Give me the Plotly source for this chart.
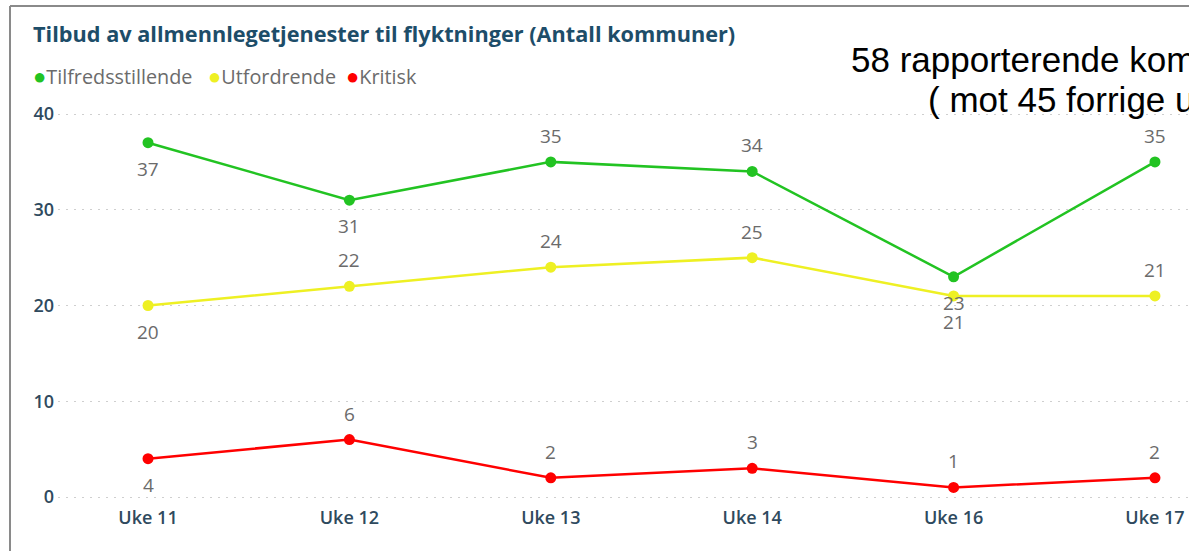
import plotly.graph_objects as go

weeks = ["Uke 11", "Uke 12", "Uke 13", "Uke 14", "Uke 16", "Uke 17"]
tilfreds = [37, 31, 35, 34, 23, 35]
utford = [20, 22, 24, 25, 21, 21]
kritisk = [4, 6, 2, 3, 1, 2]

# +1 = label above the point, -1 = label below
side_tilfreds = [-1, -1, 1, 1, -1, 1]
side_utford = [-1, 1, 1, 1, -1, 1]
side_kritisk = [-1, 1, 1, 1, 1, 1]

series = [
    ("Tilfredsstillende", tilfreds, side_tilfreds, "#22c322"),
    ("Utfordrende", utford, side_utford, "#eef023"),
    ("Kritisk", kritisk, side_kritisk, "#ff0000"),
]

W, H = 1189, 551
ML, MR, MT, MB = 58, 0, 100, 48
PX_PER_UNIT = 9.575
Y_TOP = (497 - MT) / PX_PER_UNIT
Y_BOT = -((H - MB) - 497) / PX_PER_UNIT

FONT = "Open Sans"
LABEL_COL = "#6b6b6b"
AXIS_COL = "#2f4a5e"

fig = go.Figure()
annotations = []
for name, vals, sides, col in series:
    fig.add_trace(go.Scatter(
        x=weeks, y=vals, name=name, mode="lines+markers",
        line=dict(color=col, width=2.5), marker=dict(color=col, size=11),
        showlegend=False, cliponaxis=False,
    ))
    for wk, v, s in zip(weeks, vals, sides):
        annotations.append(dict(
            x=wk, y=v, xref="x", yref="y", text=str(v), showarrow=False,
            yshift=26 * s, xanchor="center", yanchor="middle",
            font=dict(family=FONT, size=19, color=LABEL_COL),
        ))


def px_to_paper_x(px):
    return (px - ML) / (W - ML - MR)


def px_to_paper_y(py):
    return (H - MB - py) / (H - MT - MB)


legend_x = [31, 206, 344]
for (name, _, _, col), lx in zip(series, legend_x):
    annotations.append(dict(
        text=f'<span style="color:{col};font-size:22px">●</span>{name}',
        xref="paper", yref="paper", x=px_to_paper_x(lx), y=px_to_paper_y(75),
        xanchor="left", yanchor="middle", showarrow=False,
        font=dict(family=FONT, size=19.8, color=LABEL_COL),
    ))

annotations += [
    dict(text="Tilbud av allmennlegetjenester til flyktninger (Antall kommuner)",
         xref="paper", yref="paper", x=px_to_paper_x(31), y=px_to_paper_y(33),
         xanchor="left", yanchor="middle", showarrow=False,
         font=dict(family=FONT, size=21.7, color="#1d4d69", weight="bold")),
    dict(text="58 rapporterende kommuner",
         xref="paper", yref="paper", x=px_to_paper_x(849), y=px_to_paper_y(60),
         xanchor="left", yanchor="middle", showarrow=False,
         font=dict(family="Liberation Sans", size=35, color="#000000")),
    dict(text="( mot 45 forrige uke)",
         xref="paper", yref="paper", x=px_to_paper_x(926), y=px_to_paper_y(99),
         xanchor="left", yanchor="middle", showarrow=False,
         font=dict(family="Liberation Sans", size=35, color="#000000")),
]

fig.update_layout(
    width=W, height=H,
    margin=dict(l=ML, r=MR, t=MT, b=MB),
    paper_bgcolor="white", plot_bgcolor="white",
    showlegend=False,
    xaxis=dict(
        type="category", range=[-0.447, 5.169], showgrid=False, zeroline=False,
        showline=False, ticks="", ticklabelstandoff=2,
        tickfont=dict(family=FONT, size=18, color=AXIS_COL, weight=600),
    ),
    yaxis=dict(
        range=[Y_BOT, Y_TOP], tickvals=[0, 10, 20, 30, 40], showgrid=True,
        gridcolor="#cfcfcf", griddash="2px,6px", gridwidth=1, zeroline=False,
        showline=False, ticks="", ticklabelstandoff=3,
        tickfont=dict(family=FONT, size=18, color=AXIS_COL, weight=600),
    ),
    shapes=[
        dict(type="line", xref="paper", yref="paper",
             x0=px_to_paper_x(10), x1=px_to_paper_x(1300),
             y0=px_to_paper_y(6), y1=px_to_paper_y(6),
             line=dict(color="#8a8a8a", width=2)),
        dict(type="line", xref="paper", yref="paper",
             x0=px_to_paper_x(10), x1=px_to_paper_x(10),
             y0=px_to_paper_y(6), y1=px_to_paper_y(600),
             line=dict(color="#8a8a8a", width=2)),
    ],
    annotations=annotations,
)

fig.write_html(
    "out.html",
    config={"displayModeBar": False},
    post_script="document.body.style.margin='0';document.body.style.overflow='hidden';",
)
